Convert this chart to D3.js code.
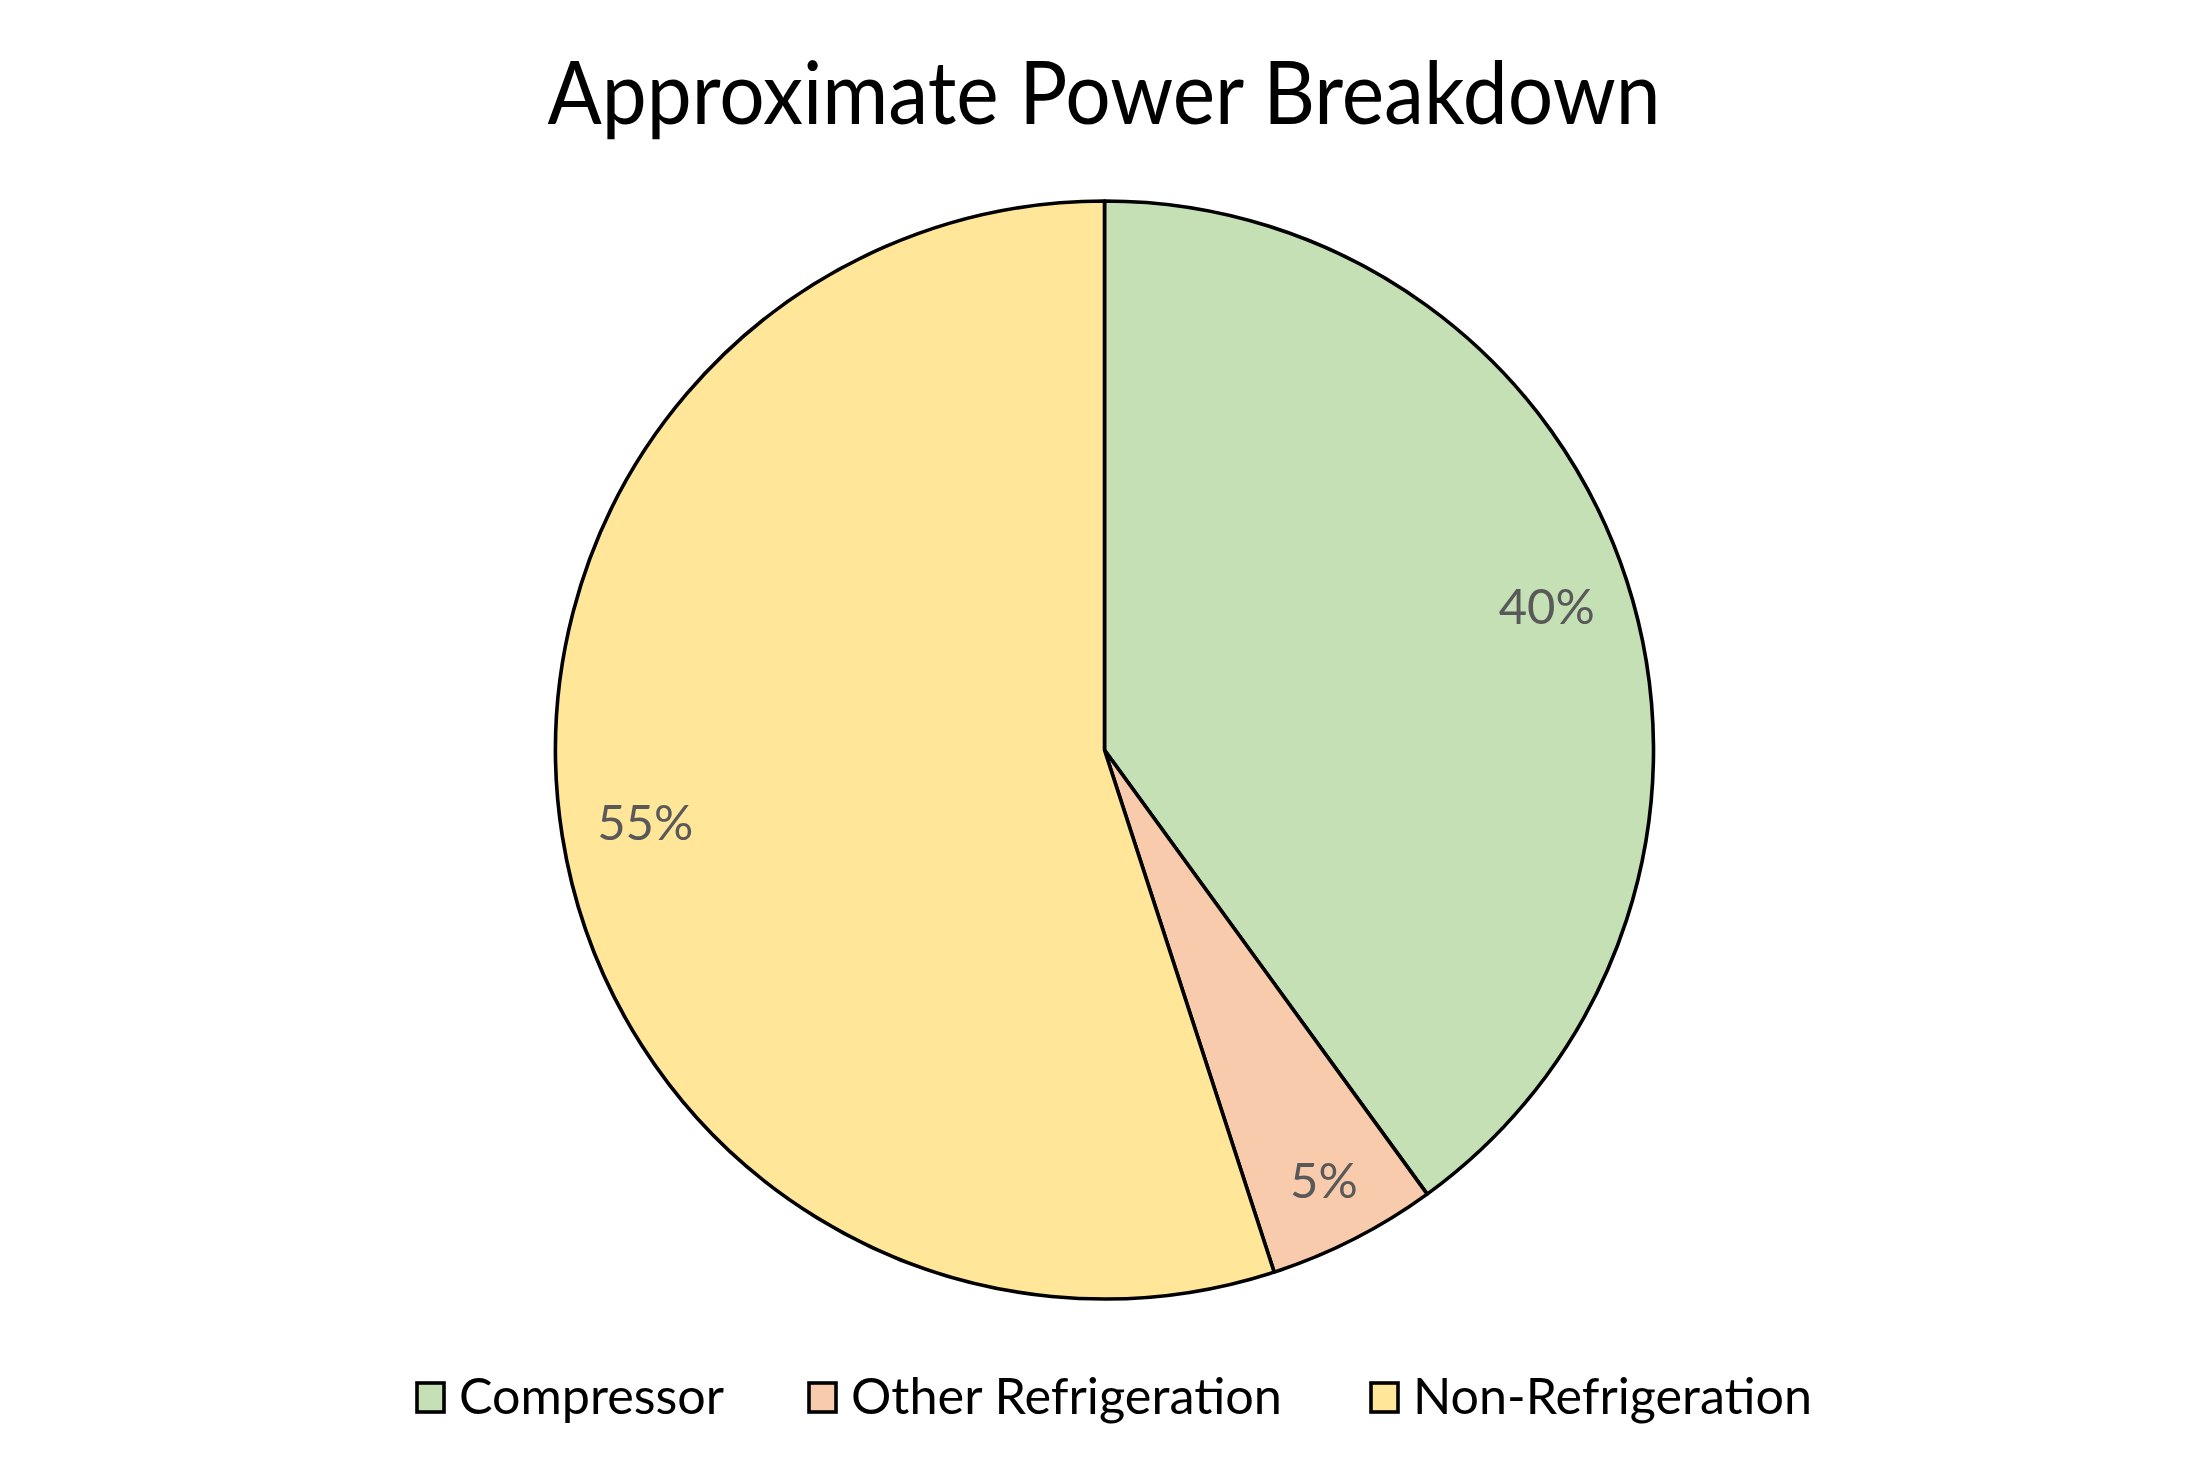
<!DOCTYPE html>
<html>
<head>
<meta charset="utf-8">
<script src="https://cdn.jsdelivr.net/npm/d3@7"></script>
<style>
  html, body { margin: 0; padding: 0; background: #ffffff; }
  svg { display: block; }
</style>
</head>
<body>
<svg id="chart" width="2209" height="1480"></svg>
<script>
const categories = ["Compressor", "Other Refrigeration", "Non-Refrigeration"];
const values = [40, 5, 55];
const percentLabels = ["40%", "5%", "55%"];
const colors = ["#C5E0B4", "#F8CBAD", "#FFE699"];
const titleText = "Approximate Power Breakdown";

const W = 2209, H = 1480;
const cx = 1104.5, cy = 750, R = 549;
const FONT = "Lato, 'Open Sans', 'Noto Sans', sans-serif";

const svg = d3.select("#chart");

// Title
svg.append("text")
  .attr("x", W / 2 - 0.5)
  .attr("y", 124)
  .attr("text-anchor", "middle")
  .attr("font-family", FONT)
  .attr("font-size", 88)
  .attr("fill", "#000")
  .attr("textLength", 1113)
  .attr("lengthAdjust", "spacingAndGlyphs")
  .text(titleText);

const data = categories.map((c, i) => ({ name: c, value: values[i], label: percentLabels[i], color: colors[i] }));

const pie = d3.pie().value(d => d.value).sort(null).startAngle(0).endAngle(2 * Math.PI);
const arcs = pie(data);
const arc = d3.arc().innerRadius(0).outerRadius(R);
// smaller slices get their label pushed slightly outward (as the reference does)
const labelRadius = d => R * (d.endAngle - d.startAngle < 0.5 ? 0.88 : 0.847);

const g = svg.append("g").attr("transform", `translate(${cx},${cy})`);

g.selectAll("path.slice")
  .data(arcs)
  .enter().append("path")
  .attr("class", "slice")
  .attr("d", arc)
  .attr("fill", d => d.data.color)
  .attr("stroke", "#000")
  .attr("stroke-width", 3.6)
  .attr("stroke-linejoin", "round");

g.selectAll("text.lbl")
  .data(arcs)
  .enter().append("text")
  .attr("class", "lbl")
  .attr("transform", d => {
    const r = labelRadius(d);
    return `translate(${d3.arc().innerRadius(r).outerRadius(r).centroid(d)})`;
  })
  .attr("text-anchor", "middle")
  .attr("dy", "0.36em")
  .attr("font-family", FONT)
  .attr("font-size", 49)
  .attr("fill", "#595959")
  .text(d => d.data.label);

// Legend
const legendX = [415, 807, 1369];
const legendW = [265, 431, 399];
const lg = svg.append("g");
const items = lg.selectAll("g.item").data(data).enter().append("g").attr("class", "item");
items.append("rect")
  .attr("x", (d, i) => legendX[i] + 2)
  .attr("y", 1383)
  .attr("width", 27)
  .attr("height", 29)
  .attr("fill", d => d.color)
  .attr("stroke", "#000")
  .attr("stroke-width", 3.6);
items.append("text")
  .attr("x", (d, i) => legendX[i] + 44)
  .attr("y", 1414)
  .attr("font-family", FONT)
  .attr("font-size", 50)
  .attr("fill", "#000")
  .attr("textLength", (d, i) => legendW[i])
  .attr("lengthAdjust", "spacingAndGlyphs")
  .text(d => d.name);
</script>
</body>
</html>
